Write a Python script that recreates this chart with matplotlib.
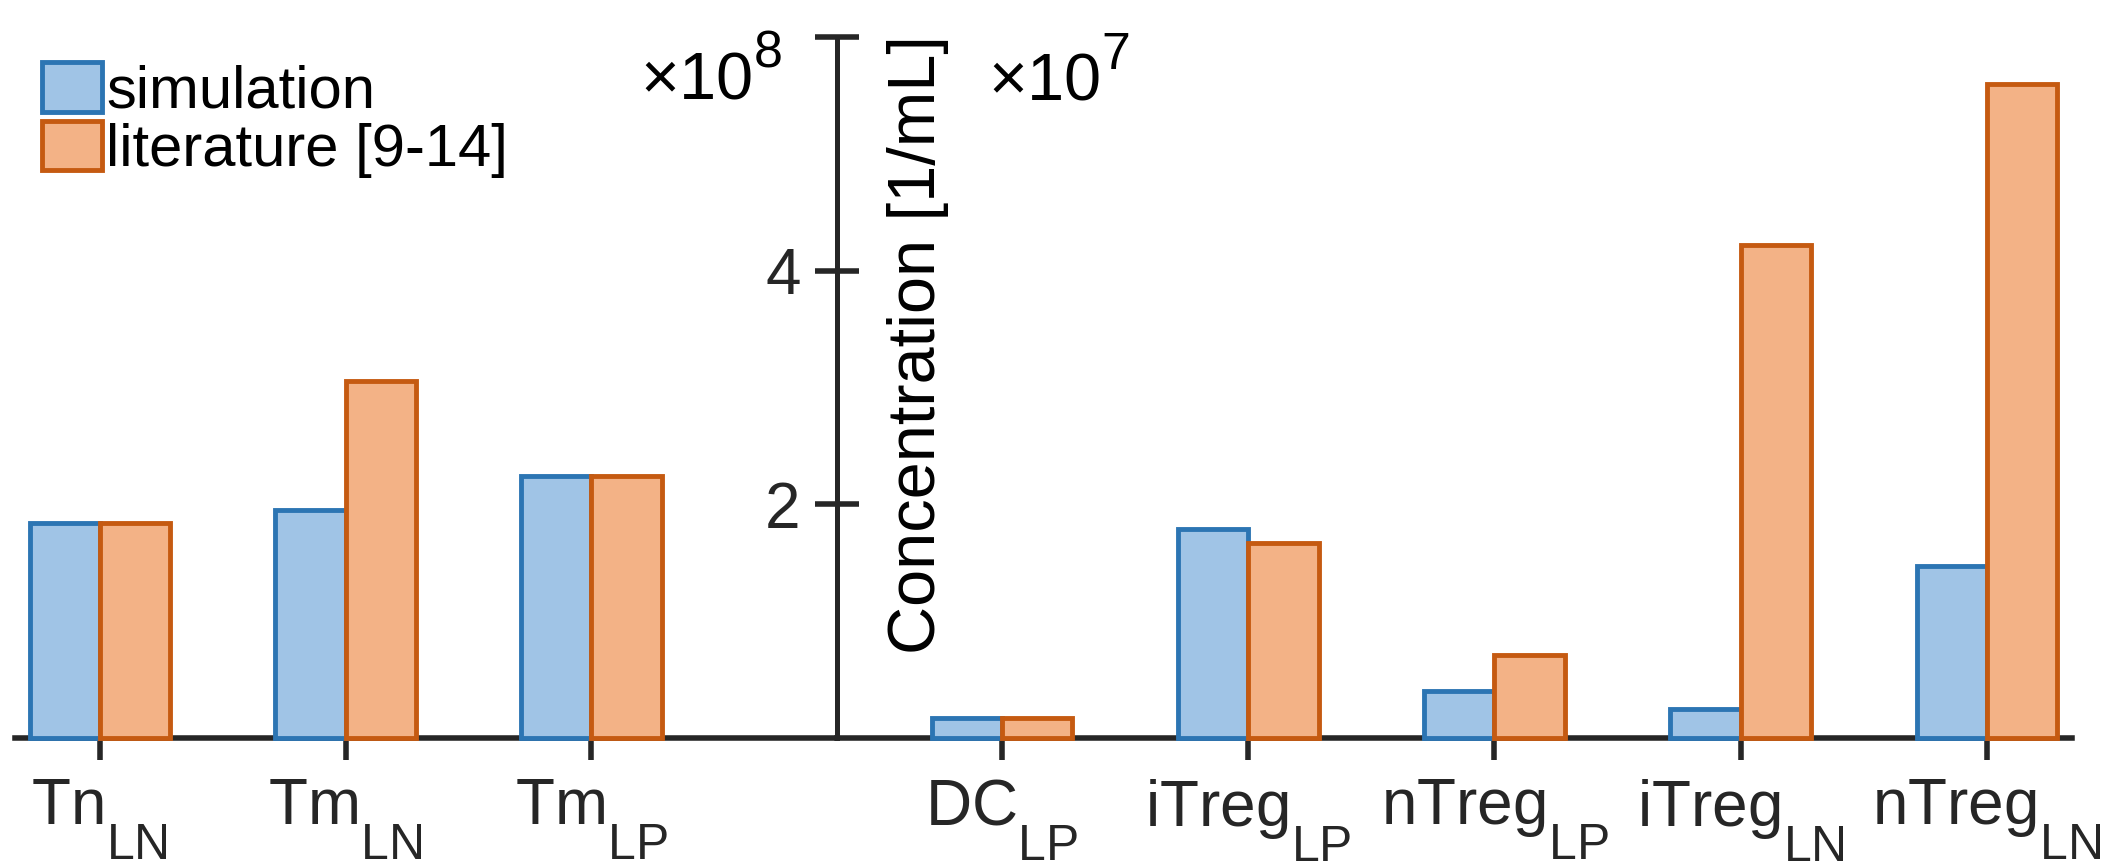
import numpy as np
import matplotlib
matplotlib.use("Agg")
import matplotlib.pyplot as plt
import matplotlib._mathtext as mt

plt.rcParams['font.family'] = ['Liberation Sans', 'DejaVu Sans']
plt.rcParams['mathtext.fontset'] = 'custom'
plt.rcParams['mathtext.rm'] = 'Liberation Sans'
# MATLAB-like sub/superscripts: bigger, subscript dropped lower, exponent raised
mt.SHRINK_FACTOR = 0.78
mt.FontConstantsBase.sub1 = 1.0
mt.FontConstantsBase.sup1 = 0.85

# T cell populations (scale x10^8)
t_labels = ['Tn$_\\mathregular{LN}$', 'Tm$_\\mathregular{LN}$', 'Tm$_\\mathregular{LP}$']
t_sim = [1.84e8, 1.95e8, 2.24e8]
t_lit = [1.84e8, 3.06e8, 2.24e8]

# DC and Treg populations (scale x10^7)
r_labels = ['DC$_\\mathregular{LP}$', 'iTreg$_\\mathregular{LP}$', 'nTreg$_\\mathregular{LP}$',
            'iTreg$_\\mathregular{LN}$', 'nTreg$_\\mathregular{LN}$']
r_sim = [0.17e7, 1.79e7, 0.40e7, 0.25e7, 1.47e7]
r_lit = [0.17e7, 1.67e7, 0.71e7, 4.22e7, 5.60e7]

blue_face, blue_edge = '#A0C4E6', '#2C75B3'
orange_face, orange_edge = '#F3B286', '#C55A11'
dark = '#262626'
bw = 0.286

fig = plt.figure(figsize=(21.05, 8.65), dpi=100)
ax1 = fig.add_axes([0.00713, 0.1468, 0.3905, 0.8104])
ax2 = fig.add_axes([0.3976, 0.1468, 0.5867, 0.8104])

def draw(ax, labels, sim, lit, scale):
    x = np.arange(1, len(labels) + 1)
    b1 = ax.bar(x - bw / 2, np.array(sim) / scale, width=bw, color=blue_face,
                edgecolor=blue_edge, linewidth=3.5, zorder=3, clip_on=False,
                label='simulation')
    b2 = ax.bar(x + bw / 2, np.array(lit) / scale, width=bw, color=orange_face,
                edgecolor=orange_edge, linewidth=3.5, zorder=3, clip_on=False,
                label='literature [9-14]')
    ax.set_xticks(x)
    ax.set_xticklabels(labels)
    ax.set_ylim(0, 6)
    ax.tick_params(axis='x', direction='out', length=16, width=4, pad=12,
                   labelsize=46, colors=dark)
    for s in ['top', 'right']:
        ax.spines[s].set_visible(False)
    ax.spines['bottom'].set_linewidth(4)
    ax.spines['bottom'].set_color(dark)
    return b1, b2

b1, b2 = draw(ax1, t_labels, t_sim, t_lit, 1e8)
draw(ax2, r_labels, r_sim, r_lit, 1e7)

ax1.set_xlim(0.655, 4.0)
ax2.set_xlim(0.33, 5.345)

ax1.spines['left'].set_visible(False)
ax1.set_yticks([])

ax2.spines['left'].set_linewidth(3.6)
ax2.spines['left'].set_color(dark)
ax2.set_yticks([2, 4, 6])
ax2.set_yticklabels(['2', '4', ''])
ax2.tick_params(axis='y', direction='inout', length=32, width=4, pad=10,
                labelsize=46, colors=dark)

fig.text(918 / 2105, 1 - 345 / 865, 'Concentration [1/mL]', rotation=90,
         ha='center', va='center', fontsize=48, color='black')
fig.text(782 / 2105, 1 - 100 / 865, '×10$^\\mathregular{8}$', ha='right',
         va='baseline', fontsize=48)
fig.text(988 / 2105, 1 - 100 / 865, '×10$^\\mathregular{7}$', ha='left',
         va='baseline', fontsize=48)

ax1.legend(handles=[b1, b2], loc='upper left', bbox_to_anchor=(42 / 2105, 1 - 62 / 865),
           bbox_transform=fig.transFigure, frameon=False, fontsize=43,
           handlelength=1.0, handleheight=0.9, handletextpad=0.08,
           labelspacing=0.02, borderpad=0, borderaxespad=0)

plt.savefig('out.png', dpi=100)
